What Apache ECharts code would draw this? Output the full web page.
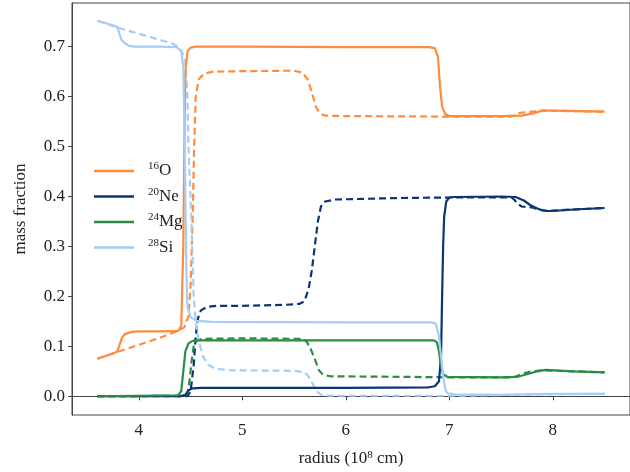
<!DOCTYPE html>
<html><head><meta charset="utf-8">
<script src="https://cdn.jsdelivr.net/npm/echarts@6/dist/echarts.min.js"></script>
<style>html,body{margin:0;padding:0;background:#fff}#c{width:630px;height:472px}</style>
</head><body><div id="c"></div>
<script>
// ---- data (radius in 1e8 cm, mass fraction) ----
const xTicks = [4, 5, 6, 7, 8];
const yTicks = [0.0, 0.1, 0.2, 0.3, 0.4, 0.5, 0.6, 0.7];
const species = ['16O', '20Ne', '24Mg', '28Si'];

const o16Solid = [[3.6,0.075],[3.7,0.082],[3.79,0.089],[3.81,0.1],[3.84,0.118],[3.87,0.125],[3.93,0.129],[4.0,0.130],[4.2,0.130],[4.38,0.131],[4.41,0.14],[4.43,0.3],[4.44,0.5],[4.45,0.65],[4.47,0.69],[4.50,0.698],[4.55,0.70],[5.0,0.70],[6.0,0.699],[6.8,0.699],[6.86,0.697],[6.89,0.68],[6.91,0.62],[6.93,0.58],[6.96,0.565],[7.0,0.561],[7.5,0.561],[7.7,0.562],[7.8,0.566],[7.9,0.572],[8.0,0.572],[8.5,0.570]];
const o16Dashed = [[3.6,0.075],[3.8,0.089],[4.0,0.103],[4.2,0.117],[4.38,0.131],[4.44,0.138],[4.48,0.16],[4.5,0.22],[4.52,0.35],[4.535,0.5],[4.55,0.6],[4.58,0.635],[4.63,0.646],[4.72,0.65],[5.0,0.651],[5.5,0.652],[5.58,0.648],[5.63,0.635],[5.67,0.61],[5.71,0.58],[5.75,0.566],[5.8,0.562],[6.0,0.561],[7.0,0.56],[7.6,0.56],[7.66,0.566],[7.7,0.568],[7.8,0.57],[7.9,0.572],[8.5,0.570]];
const ne20Solid = [[3.6,0.0],[4.4,0.0],[4.45,0.003],[4.48,0.012],[4.52,0.016],[4.6,0.017],[6.0,0.017],[6.8,0.018],[6.86,0.02],[6.9,0.03],[6.92,0.08],[6.93,0.2],[6.94,0.3],[6.95,0.36],[6.97,0.39],[7.0,0.398],[7.05,0.399],[7.5,0.4],[7.64,0.399],[7.72,0.392],[7.78,0.383],[7.86,0.375],[7.93,0.371],[8.0,0.371],[8.2,0.374],[8.5,0.377]];
const ne20Dashed = [[3.6,0.0],[4.47,0.0],[4.5,0.01],[4.53,0.06],[4.55,0.12],[4.57,0.155],[4.6,0.172],[4.66,0.179],[4.75,0.181],[5.0,0.181],[5.4,0.183],[5.55,0.185],[5.6,0.19],[5.64,0.215],[5.67,0.25],[5.7,0.3],[5.73,0.35],[5.76,0.38],[5.8,0.39],[5.9,0.394],[6.5,0.397],[7.0,0.398],[7.6,0.398],[7.63,0.393],[7.66,0.385],[7.7,0.38],[7.8,0.378],[7.9,0.372],[8.0,0.372],[8.5,0.377]];
const mg24Solid = [[3.6,0.0],[4.0,0.001],[4.38,0.002],[4.41,0.01],[4.43,0.05],[4.45,0.09],[4.48,0.106],[4.52,0.111],[4.6,0.112],[6.0,0.112],[6.85,0.112],[6.88,0.108],[6.9,0.09],[6.92,0.06],[6.94,0.044],[6.98,0.039],[7.5,0.038],[7.66,0.039],[7.75,0.044],[7.85,0.05],[7.93,0.053],[8.2,0.05],[8.5,0.048]];
const mg24Dashed = [[3.6,0.0],[4.44,0.001],[4.47,0.006],[4.49,0.03],[4.51,0.07],[4.53,0.1],[4.56,0.112],[4.62,0.115],[5.0,0.116],[5.58,0.115],[5.62,0.11],[5.66,0.095],[5.7,0.075],[5.74,0.052],[5.78,0.043],[5.85,0.04],[6.5,0.039],[7.0,0.038],[7.6,0.038],[7.65,0.04],[7.7,0.045],[7.8,0.05],[7.9,0.052],[8.2,0.05],[8.5,0.048]];
const si28Solid = [[3.6,0.752],[3.7,0.746],[3.79,0.74],[3.81,0.728],[3.83,0.715],[3.86,0.708],[3.9,0.702],[3.95,0.70],[4.2,0.70],[4.37,0.699],[4.41,0.69],[4.43,0.66],[4.44,0.55],[4.45,0.4],[4.46,0.25],[4.47,0.18],[4.5,0.158],[4.56,0.151],[4.7,0.149],[6.0,0.148],[6.83,0.148],[6.87,0.145],[6.9,0.12],[6.92,0.08],[6.94,0.04],[6.96,0.015],[6.98,0.006],[7.05,0.004],[7.5,0.003],[8.0,0.005],[8.5,0.005]];
const si28Dashed = [[3.6,0.752],[3.8,0.738],[4.0,0.726],[4.2,0.714],[4.33,0.706],[4.38,0.7],[4.42,0.688],[4.45,0.67],[4.47,0.6],[4.48,0.5],[4.5,0.4],[4.52,0.28],[4.53,0.2],[4.55,0.15],[4.58,0.11],[4.62,0.08],[4.67,0.063],[4.74,0.055],[4.9,0.052],[5.5,0.051],[5.6,0.048],[5.64,0.04],[5.68,0.025],[5.72,0.01],[5.76,0.003],[5.85,0.001],[6.5,0.001],[7.0,0.001],[8.0,0.004],[8.5,0.005]];

const colors = {'16O':'#fd8d3c','20Ne':'#0b3577','24Mg':'#2a8c45','28Si':'#a5cdf5'};
const solidData = {'16O':o16Solid,'20Ne':ne20Solid,'24Mg':mg24Solid,'28Si':si28Solid};
const dashedData = {'16O':o16Dashed,'20Ne':ne20Dashed,'24Mg':mg24Dashed,'28Si':si28Dashed};

const FONT = 'Liberation Serif';
const series = [];
species.forEach(s => {
  series.push({name: s, type:'line', data: solidData[s], symbol:'none', showSymbol:false,
    lineStyle:{color: colors[s], width: 2.2}, itemStyle:{color: colors[s]}, z: 3});
});
species.forEach(s => {
  series.push({name: s + ' dashed', type:'line', data: dashedData[s], symbol:'none', showSymbol:false,
    lineStyle:{color: colors[s], width: 2.2, type:[7,4]}, itemStyle:{color: colors[s]}, z: 2});
});

const chart = echarts.init(document.getElementById('c'), null, {renderer:'canvas'});
chart.setOption({
  animation:false,
  backgroundColor:'#fff',
  grid:{left:72, top:3, width:560, height:416, show:true, borderColor:'#444', borderWidth:1},
  legend:{
    data: species, orient:'vertical', left:89, top:156, icon:'rect', itemWidth:40, itemHeight:2.5, itemGap:7,
    formatter: n => '{sup|' + n.replace(/[A-Za-z]+/, '') + '}{t|' + n.replace(/[0-9]+/, '') + '}',
    textStyle:{fontFamily:FONT, color:'#222', padding:[0,0,0,9],
      rich:{t:{fontFamily:FONT, fontSize:17, lineHeight:20, color:'#222'},
            sup:{fontFamily:FONT, fontSize:11, lineHeight:12, verticalAlign:'top', color:'#222'}}}
  },
  xAxis:{type:'value', min:3.355, max:8.745,
    name:'radius (10{sup|8} cm)', nameLocation:'middle', nameGap:35,
    nameTextStyle:{fontFamily:FONT, fontSize:17, color:'#222',
      rich:{sup:{fontFamily:FONT, fontSize:11, verticalAlign:'top', lineHeight:12, color:'#222'}}},
    splitLine:{show:false},
    axisLine:{show:true, lineStyle:{color:'#444', width:1}},
    axisTick:{show:true, length:4, lineStyle:{color:'#444'}, customValues: xTicks},
    axisLabel:{fontFamily:FONT, fontSize:17, color:'#222', margin:7, customValues: xTicks,
      formatter: v => String(v)}
  },
  yAxis:{type:'value', min:-0.0375, max:0.7875,
    name:'mass fraction', nameLocation:'middle', nameGap:43, nameRotate:90,
    nameTextStyle:{fontFamily:FONT, fontSize:17, color:'#222'},
    splitLine:{show:false},
    axisLine:{show:true, lineStyle:{color:'#444', width:1}},
    axisTick:{show:true, length:4, lineStyle:{color:'#444'}, customValues: yTicks},
    axisLabel:{fontFamily:FONT, fontSize:17, color:'#222', margin:7, customValues: yTicks,
      formatter: v => Number(v).toFixed(1)}
  },
  series: series
});
</script></body></html>
